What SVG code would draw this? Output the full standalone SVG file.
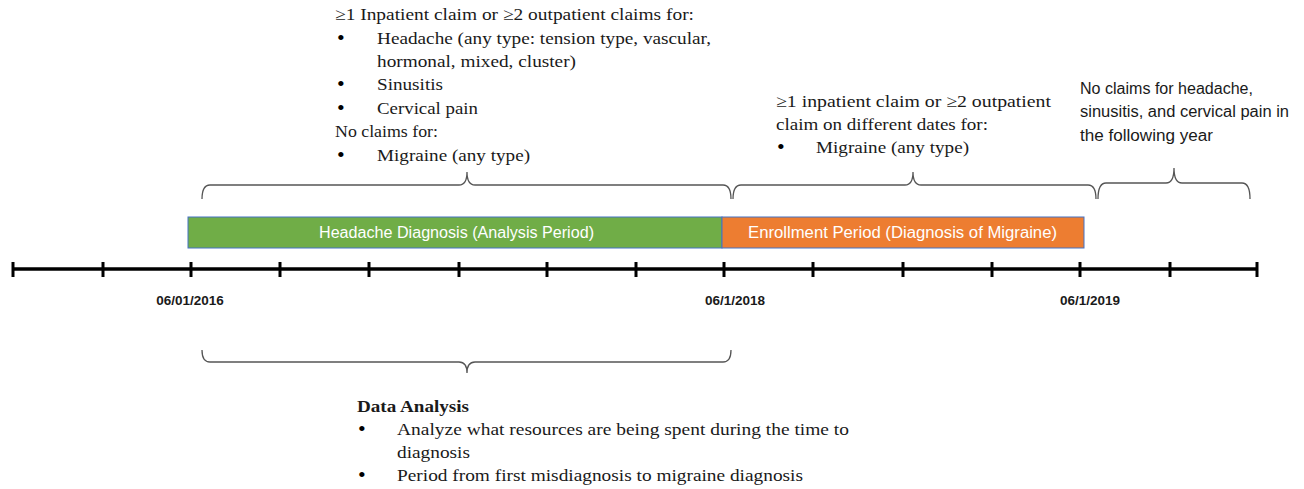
<svg xmlns="http://www.w3.org/2000/svg" width="1304" height="489" viewBox="0 0 1304 489">
<style>
.serif{font-family:"Liberation Serif","DejaVu Serif",serif;font-size:17px;fill:#1a1a1a}
.bul{font-family:"Liberation Serif",serif;font-size:22px;fill:#000}
.sans{font-family:"Liberation Sans","Open Sans",sans-serif;font-size:16px;fill:#1a1a1a}
.date{font-family:"Liberation Sans",sans-serif;font-size:13.5px;font-weight:bold;fill:#1a1a1a}
.bar{font-family:"Liberation Sans",sans-serif;font-size:16px;fill:#ffffff}
.brace{fill:none;stroke:#555;stroke-width:1.3}
.tick{stroke:#000;stroke-width:3}
</style>
<rect width="1304" height="489" fill="#fff"/>
<g id="timeline">
<line x1="12" y1="269" x2="1258" y2="269" stroke="#000" stroke-width="3.5"/>
<g class="tick">
<line x1="13" y1="262" x2="13" y2="277"/>
<line x1="103" y1="262" x2="103" y2="277"/>
<line x1="191" y1="262" x2="191" y2="277"/>
<line x1="280" y1="262" x2="280" y2="277"/>
<line x1="369" y1="262" x2="369" y2="277"/>
<line x1="459" y1="262" x2="459" y2="277"/>
<line x1="547" y1="262" x2="547" y2="277"/>
<line x1="636" y1="262" x2="636" y2="277"/>
<line x1="724" y1="262" x2="724" y2="277"/>
<line x1="813" y1="262" x2="813" y2="277"/>
<line x1="903" y1="262" x2="903" y2="277"/>
<line x1="992" y1="262" x2="992" y2="277"/>
<line x1="1080" y1="262" x2="1080" y2="277"/>
<line x1="1170" y1="262" x2="1170" y2="277"/>
<line x1="1257" y1="262" x2="1257" y2="277"/>
</g>
<text class="date" x="190" y="305" text-anchor="middle">06/01/2016</text>
<text class="date" x="735" y="305" text-anchor="middle">06/1/2018</text>
<text class="date" x="1090" y="305" text-anchor="middle">06/1/2019</text>
</g>
<g id="headache-bar">
<rect x="188" y="217" width="534" height="31" fill="#70ad47" stroke="#4472c4" stroke-width="1"/>
<text class="bar" x="319" y="238" textLength="275" lengthAdjust="spacingAndGlyphs">Headache Diagnosis (Analysis Period)</text>
</g>
<g id="enrollment-bar">
<rect x="722" y="217" width="362" height="31" fill="#ed7d31" stroke="#4472c4" stroke-width="1"/>
<text class="bar" x="748" y="238" textLength="309" lengthAdjust="spacingAndGlyphs">Enrollment Period (Diagnosis of Migraine)</text>
</g>
<g id="connectors">
<path class="brace" d="M202,199 Q202,185 210,185 L459,185 Q467,185 467,172 Q467,185 475,185 L723,185 Q731,185 731,199"/>
<path class="brace" d="M733,199 Q733,185 741,185 L905,185 Q913,185 913,172 Q913,185 921,185 L1088,185 Q1096,185 1096,199"/>
<path class="brace" d="M1098,199 Q1098,183 1106,183 L1166,183 Q1174,183 1174,168 Q1174,183 1182,183 L1242,183 Q1250,183 1250,199"/>
<path class="brace" d="M202,350 Q202,362 210,362 L459,362 Q467,362 467,373 Q467,362 475,362 L723,362 Q731,362 731,350"/>
</g>
<g id="headache-criteria">
<text class="serif" x="335" y="20" textLength="359" lengthAdjust="spacingAndGlyphs">≥1 Inpatient claim or ≥2 outpatient claims for:</text>
<text class="bul" x="337" y="45">•</text><text class="serif" x="377" y="44" textLength="334" lengthAdjust="spacingAndGlyphs">Headache (any type: tension type, vascular,</text>
<text class="serif" x="377" y="67" textLength="199" lengthAdjust="spacingAndGlyphs">hormonal, mixed, cluster)</text>
<text class="bul" x="337" y="91">•</text><text class="serif" x="377" y="90" textLength="66" lengthAdjust="spacingAndGlyphs">Sinusitis</text>
<text class="bul" x="337" y="115">•</text><text class="serif" x="377" y="114" textLength="101" lengthAdjust="spacingAndGlyphs">Cervical pain</text>
<text class="serif" x="335" y="137" textLength="103" lengthAdjust="spacingAndGlyphs">No claims for:</text>
<text class="bul" x="337" y="162">•</text><text class="serif" x="377" y="161" textLength="153" lengthAdjust="spacingAndGlyphs">Migraine (any type)</text>
</g>
<g id="migraine-criteria">
<text class="serif" x="776" y="107" textLength="275" lengthAdjust="spacingAndGlyphs">≥1 inpatient claim  or ≥2 outpatient</text>
<text class="serif" x="776" y="130" textLength="212" lengthAdjust="spacingAndGlyphs">claim on different dates for:</text>
<text class="bul" x="777" y="154">•</text><text class="serif" x="816" y="153" textLength="153" lengthAdjust="spacingAndGlyphs">Migraine (any type)</text>
</g>
<g id="followup-criteria">
<text class="sans" x="1080" y="94" textLength="173" lengthAdjust="spacingAndGlyphs">No claims for headache,</text>
<text class="sans" x="1080" y="117" textLength="209" lengthAdjust="spacingAndGlyphs">sinusitis, and cervical pain in</text>
<text class="sans" x="1080" y="141" textLength="133" lengthAdjust="spacingAndGlyphs">the following year</text>
</g>
<g id="data-analysis">
<text class="serif" x="357" y="412" font-weight="bold" textLength="112" lengthAdjust="spacingAndGlyphs">Data Analysis</text>
<text class="bul" x="358" y="436">•</text><text class="serif" x="397" y="435" textLength="452" lengthAdjust="spacingAndGlyphs">Analyze what resources are being spent during the time to</text>
<text class="serif" x="397" y="458" textLength="73" lengthAdjust="spacingAndGlyphs">diagnosis</text>
<text class="bul" x="358" y="482">•</text><text class="serif" x="397" y="481" textLength="406" lengthAdjust="spacingAndGlyphs">Period from first misdiagnosis to migraine diagnosis</text>
</g>
</svg>
